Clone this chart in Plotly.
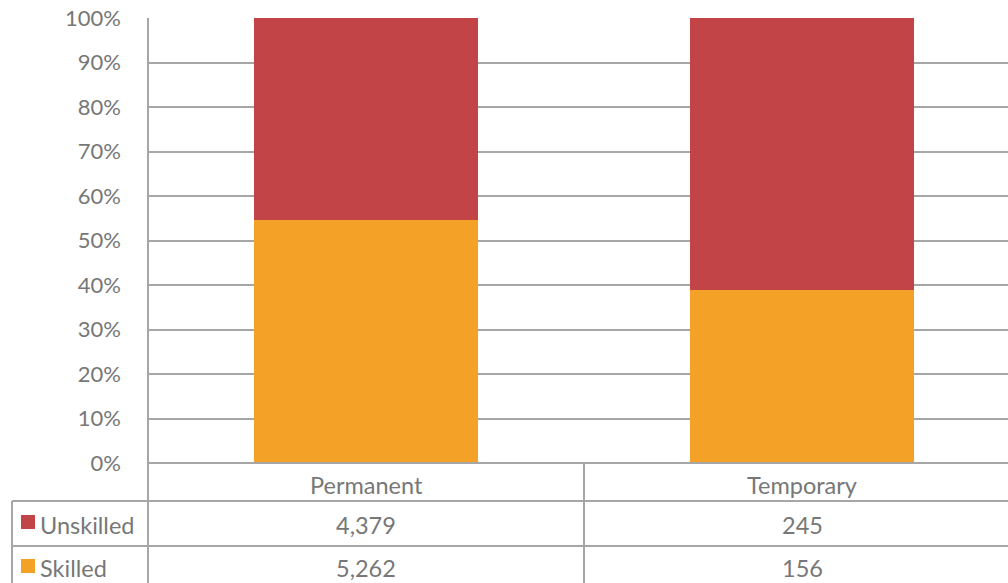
import plotly.graph_objects as go

categories = ["Permanent", "Temporary"]
series_names = ["Skilled", "Unskilled"]
skilled = [5262, 156]
unskilled = [4379, 245]
colors = {"Skilled": "#F4A227", "Unskilled": "#C24446"}
y_ticks = list(range(0, 101, 10))
y_tick_labels = [f"{v}%" for v in y_ticks]

W, H = 1008, 583
L, T, B = 148, 18, 120
plot_h = H - T - B
plot_w = W - L
FONT = "Lato"
TXT = "#777777"
GRID = "#a6a6a6"

values = {"Skilled": skilled, "Unskilled": unskilled}
totals = [s + u for s, u in zip(skilled, unskilled)]

# full category width 436 px; plot cut off at right edge
cat_px = 436
x0 = -0.5
x1 = x0 + plot_w / cat_px

fig = go.Figure()
for name in series_names:
    pct = [v / t * 100 for v, t in zip(values[name], totals)]
    fig.add_trace(go.Bar(x=list(range(len(categories))), y=pct, name=name,
                         marker=dict(color=colors[name], line=dict(width=0)),
                         width=0.512, showlegend=False, hoverinfo="skip"))

def py(px):
    return (H - B - px) / plot_h

def pxx(px):
    return (px - L) / plot_w

shapes = []
line = dict(color=GRID, width=2)
# baseline at 0%
shapes.append(dict(type="line", xref="paper", yref="paper", x0=0, x1=1, y0=0, y1=0, line=line))
# left axis line through table
shapes.append(dict(type="line", xref="paper", yref="paper", x0=0, x1=0, y0=1, y1=py(H + 5), line=line))
# table horizontal lines
for ypx in [501, 546]:
    shapes.append(dict(type="line", xref="paper", yref="paper", x0=pxx(12), x1=1.0, y0=py(ypx), y1=py(ypx), line=line))
# left border of legend column
shapes.append(dict(type="line", xref="paper", yref="paper", x0=pxx(12), x1=pxx(12), y0=py(501), y1=py(H + 5), line=line))
# column boundary
for i in range(len(categories) - 1):
    shapes.append(dict(type="line", xref="x", yref="paper", x0=i + 0.5, x1=i + 0.5, y0=0, y1=py(H + 5), line=line))

annotations = []
font = dict(family=FONT, size=23.5, color=TXT)
hdr_y = py(485)
row_y = {"Unskilled": py(525), "Skilled": py(568)}
for i, c in enumerate(categories):
    annotations.append(dict(x=i, y=hdr_y, xref="x", yref="paper", text=c, showarrow=False, font=font, xanchor="center", yanchor="middle"))
for name in ["Unskilled", "Skilled"]:
    for i in range(len(categories)):
        annotations.append(dict(x=i, y=row_y[name], xref="x", yref="paper", text=f"{values[name][i]:,}", showarrow=False, font=font, xanchor="center", yanchor="middle"))
    annotations.append(dict(x=pxx(38), y=row_y[name], xref="paper", yref="paper", text=name, showarrow=False, font=font, xanchor="left", yanchor="middle"))
    cy = py(522) if name == "Unskilled" else py(566)
    shapes.append(dict(type="rect", xref="paper", yref="paper", x0=pxx(21), x1=pxx(35),
                       y0=cy - 7 / plot_h, y1=cy + 7 / plot_h, fillcolor=colors[name], line=dict(width=0)))

fig.update_layout(
    width=W, height=H,
    margin=dict(l=L, r=0, t=T, b=B, pad=0),
    paper_bgcolor="white", plot_bgcolor="white",
    barmode="stack", bargap=0,
    xaxis=dict(range=[x0, x1], showticklabels=False, showgrid=False, zeroline=False, showline=False, fixedrange=True),
    yaxis=dict(range=[0, 100], tickvals=y_ticks, ticktext=y_tick_labels, showgrid=True, gridcolor=GRID, gridwidth=2,
               zeroline=False, showline=False, ticks="", ticklabelstandoff=26,
               tickfont=dict(family=FONT, size=22, color=TXT), fixedrange=True),
    shapes=shapes, annotations=annotations,
)
fig.write_html("out.html")
